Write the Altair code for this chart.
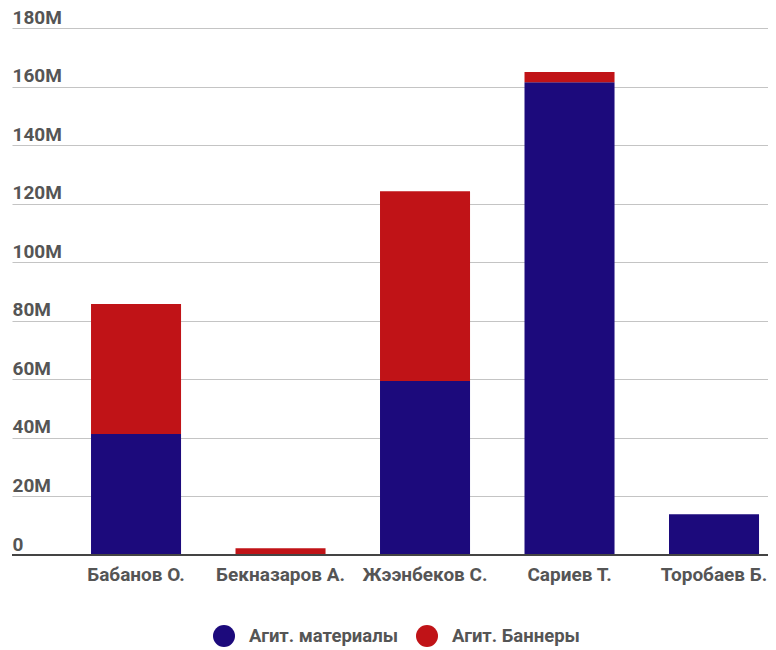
import altair as alt
import pandas as pd

candidates = ["Бабанов О.", "Бекназаров А.", "Жээнбеков С.", "Сариев Т.", "Торобаев Б."]
series = ["Агит. материалы", "Агит. Баннеры"]
materials_m = [41.3, 0.0, 59.4, 161.5, 13.9]
banners_m = [44.4, 2.3, 64.8, 3.5, 0.0]
colors = ["#1c0a7c", "#c01317"]
y_ticks = [0, 20e6, 40e6, 60e6, 80e6, 100e6, 120e6, 140e6, 160e6, 180e6]

rows = []
for i, c in enumerate(candidates):
    rows.append({"cand": c, "series": series[0], "order": 0, "value": materials_m[i] * 1e6})
    rows.append({"cand": c, "series": series[1], "order": 1, "value": banners_m[i] * 1e6})
df = pd.DataFrame(rows)

W = 756
H = 527
FONT = "Roboto"
TXT = "#555555"
FS = 19

bars = alt.Chart(df).mark_bar().encode(
    x=alt.X("cand:N", sort=candidates, title=None,
            scale=alt.Scale(paddingInner=0.377, paddingOuter=0.3045, align=0.898),
            axis=alt.Axis(labelAngle=0, ticks=False, domain=False, labelPadding=10,
                          labelFont=FONT, labelFontSize=FS, labelFontWeight="bold",
                          labelColor=TXT)),
    y=alt.Y("value:Q", stack="zero", title=None,
            scale=alt.Scale(domain=[0, 180e6], nice=False),
            axis=alt.Axis(values=y_ticks,
                          labelExpr="datum.value == 0 ? '0' : format(datum.value, '~s')",
                          domain=False, ticks=False,
                          labelAlign="left", labelPadding=0, labelBaseline="alphabetic",
                          labelOffset=-5, labelFlush=False,
                          labelFont=FONT, labelFontSize=FS, labelFontWeight="bold",
                          labelColor=TXT, gridColor="#c4c4c4", gridWidth=1.2)),
    color=alt.Color("series:N", sort=series,
                    scale=alt.Scale(domain=series, range=colors),
                    legend=alt.Legend(title=None, orient="none", direction="horizontal",
                                      legendX=201, legendY=597, symbolType="circle",
                                      symbolSize=484, symbolStrokeWidth=0,
                                      labelFont=FONT, labelFontSize=18.5, labelFontWeight="bold",
                                      labelColor=TXT, labelOffset=14, columnPadding=18)),
    order=alt.Order("order:Q"),
)

base = alt.Chart(pd.DataFrame({"v": [0]})).mark_rule(color="#444444", strokeWidth=2).encode(
    y=alt.Y("v:Q"),
    x=alt.value(0), x2=alt.value(W),
)

chart = alt.layer(bars, base).properties(
    width=W, height=H, autosize="none",
    padding={"left": 4, "top": 20, "right": 0, "bottom": 95},
).configure_view(stroke=None)

chart.save("out.html", embed_options={"renderer": "svg", "actions": False})
